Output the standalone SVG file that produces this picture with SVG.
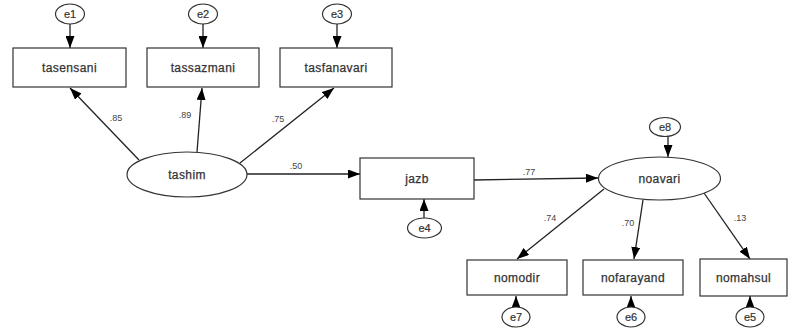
<svg xmlns="http://www.w3.org/2000/svg" width="792" height="336" viewBox="0 0 792 336">
<defs>
<marker id="ah" viewBox="0 0 12 9" refX="12" refY="4.5" markerWidth="12" markerHeight="9" markerUnits="userSpaceOnUse" orient="auto">
<path d="M0,0 L12,4.5 L0,9 Z" fill="#000"/>
</marker>
</defs>
<style>
.box{fill:#fff;stroke:#333;stroke-width:1.2}
.el{fill:#fff;stroke:#333;stroke-width:1.2}
.t{font-family:"Liberation Sans",Arial,sans-serif;font-size:12px;fill:#333;text-anchor:middle;dominant-baseline:central;letter-spacing:0.4px;stroke:#333;stroke-width:0.25}
.te{font-family:"Liberation Sans",Arial,sans-serif;font-size:11px;fill:#333;text-anchor:middle;dominant-baseline:central;stroke:#333;stroke-width:0.2}
.c{font-family:"Liberation Sans",Arial,sans-serif;font-size:9px;fill:#444;text-anchor:middle}
.ln{stroke:#222;stroke-width:1.3;fill:none;marker-end:url(#ah)}
</style>
<rect width="792" height="336" fill="#fff"/>
<g id="connectors">
<line class="ln" x1="70" y1="24" x2="70" y2="48"/>
<line class="ln" x1="203" y1="24" x2="203" y2="48"/>
<line class="ln" x1="337" y1="24" x2="337" y2="48"/>
<line class="ln" x1="139" y1="160" x2="70" y2="88"/>
<line class="ln" x1="197" y1="152" x2="202" y2="88"/>
<line class="ln" x1="240" y1="163" x2="334" y2="88"/>
<line class="ln" x1="247" y1="174" x2="360" y2="174"/>
<line class="ln" x1="424" y1="218" x2="424" y2="199"/>
<line class="ln" x1="474" y1="180" x2="598" y2="178"/>
<line class="ln" x1="668" y1="137" x2="668" y2="157"/>
<line class="ln" x1="604" y1="189" x2="517" y2="259"/>
<line class="ln" x1="643" y1="200" x2="634" y2="259"/>
<line class="ln" x1="704" y1="193" x2="750" y2="259"/>
<line class="ln" x1="516" y1="307" x2="516" y2="296"/>
<line class="ln" x1="631" y1="307" x2="631" y2="296"/>
<line class="ln" x1="750" y1="307" x2="750" y2="296"/>
<text class="c" x="116" y="121">.85</text>
<text class="c" x="185" y="118">.89</text>
<text class="c" x="278" y="122">.75</text>
<text class="c" x="296" y="169">.50</text>
<text class="c" x="529" y="175">.77</text>
<text class="c" x="550" y="221">.74</text>
<text class="c" x="628" y="226">.70</text>
<text class="c" x="740" y="221">.13</text>
</g>
<g id="e1"><ellipse class="el" cx="70" cy="14" rx="14.5" ry="10"/><text class="te" x="70" y="14">e1</text></g>
<g id="e2"><ellipse class="el" cx="203" cy="14" rx="14.5" ry="10"/><text class="te" x="203" y="14">e2</text></g>
<g id="e3"><ellipse class="el" cx="337" cy="14" rx="14.5" ry="10"/><text class="te" x="337" y="14">e3</text></g>
<g id="tasensani"><rect class="box" x="13" y="48" width="113" height="39"/><text class="t" x="69.5" y="68">tasensani</text></g>
<g id="tassazmani"><rect class="box" x="147" y="48" width="112" height="39"/><text class="t" x="203" y="68">tassazmani</text></g>
<g id="tasfanavari"><rect class="box" x="280" y="48" width="112" height="39"/><text class="t" x="336" y="68">tasfanavari</text></g>
<g id="tashim"><ellipse class="el" cx="187" cy="174.5" rx="60" ry="22.5"/><text class="t" x="187" y="174.5">tashim</text></g>
<g id="jazb"><rect class="box" x="360" y="158" width="114" height="41"/><text class="t" x="417" y="179">jazb</text></g>
<g id="e4"><ellipse class="el" cx="424.5" cy="228" rx="17" ry="10"/><text class="te" x="424.5" y="228">e4</text></g>
<g id="noavari"><ellipse class="el" cx="659.5" cy="178.5" rx="61" ry="21.5"/><text class="t" x="659.5" y="178.5">noavari</text></g>
<g id="e8"><ellipse class="el" cx="665" cy="127" rx="15.5" ry="9.5"/><text class="te" x="665" y="127">e8</text></g>
<g id="nomodir"><rect class="box" x="467" y="260" width="100" height="35"/><text class="t" x="517" y="277.5">nomodir</text></g>
<g id="nofarayand"><rect class="box" x="583" y="260" width="100" height="35"/><text class="t" x="633" y="277.5">nofarayand</text></g>
<g id="nomahsul"><rect class="box" x="700" y="259" width="87" height="37"/><text class="t" x="743.5" y="277.5">nomahsul</text></g>
<g id="e7"><ellipse class="el" cx="516" cy="317" rx="14" ry="10"/><text class="te" x="516" y="317">e7</text></g>
<g id="e6"><ellipse class="el" cx="631" cy="317" rx="14" ry="10"/><text class="te" x="631" y="317">e6</text></g>
<g id="e5"><ellipse class="el" cx="750" cy="317" rx="14" ry="10"/><text class="te" x="750" y="317">e5</text></g>
</svg>
